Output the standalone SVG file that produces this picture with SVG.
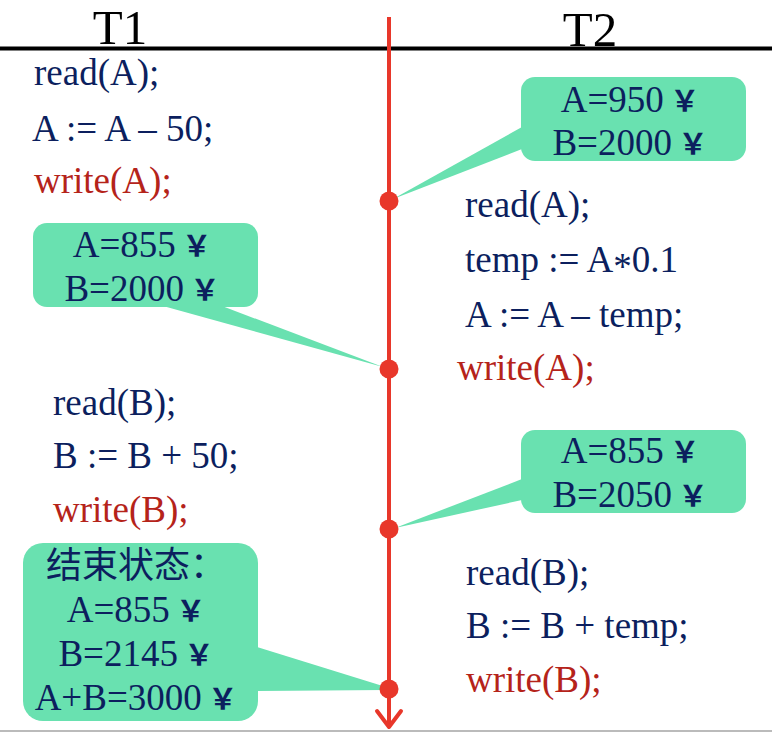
<svg xmlns="http://www.w3.org/2000/svg" width="772" height="732" viewBox="0 0 772 732">
<style>
.t{font-family:"Liberation Serif","Times New Roman",serif;font-size:37px;fill:#0c1f5e}
.r{fill:#b5231a}
.h{font-family:"Liberation Serif","Times New Roman",serif;font-size:49px;fill:#000}
.c{text-anchor:middle}
.y{font-family:"Noto Sans CJK SC",sans-serif;font-weight:bold;font-size:29px}
.zh{font-family:"Noto Sans CJK SC",sans-serif;font-size:36px;fill:#0c1f5e}
.box{fill:#69e1b0}
.dot{fill:#e8372a}
</style>
<rect width="772" height="732" fill="#fff"/>
<line x1="0" y1="731" x2="772" y2="731" stroke="#bbbbbb" stroke-width="2"/>
<g id="header">
<line x1="0" y1="48.5" x2="772" y2="48.5" stroke="#000" stroke-width="4"/>
<text class="h" x="120" y="44" text-anchor="middle">T1</text>
<text class="h" x="590" y="46" text-anchor="middle">T2</text>
</g>
<g id="connectors">
<line x1="389" y1="17" x2="389" y2="726" stroke="#e8372a" stroke-width="4"/>
<polyline points="377,711 389,727 401,711" fill="none" stroke="#e8372a" stroke-width="4" stroke-linecap="round" stroke-linejoin="round"/>
</g>
<g id="t1-code1">
<text class="t" x="34" y="85">read(A);</text>
<text class="t" x="32" y="141">A := A – 50;</text>
<text class="t r" x="34" y="193">write(A);</text>
</g>
<g id="t1-code2">
<text class="t" x="53" y="415">read(B);</text>
<text class="t" x="53" y="468">B := B + 50;</text>
<text class="t r" x="53" y="522">write(B);</text>
</g>
<g id="t2-code1">
<text class="t" x="465" y="217">read(A);</text>
<text class="t" x="465" y="272">temp := A<tspan dy="7">*</tspan><tspan dy="-7">0.1</tspan></text>
<text class="t" x="465" y="327">A := A – temp;</text>
<text class="t r" x="457" y="380">write(A);</text>
</g>
<g id="t2-code2">
<text class="t" x="466" y="585">read(B);</text>
<text class="t" x="466" y="638">B := B + temp;</text>
<text class="t r" x="466" y="692">write(B);</text>
</g>
<g id="callout-t2-1">
<polygon class="box" points="522,127 522,149 393,199"/>
<rect class="box" x="521" y="77" width="225" height="84" rx="14"/>
<text class="t c" x="630" y="112">A=950<tspan class="y"> ￥</tspan></text>
<text class="t c" x="630" y="155">B=2000<tspan class="y"> ￥</tspan></text>
</g>
<g id="callout-t1-1">
<polygon class="box" points="163,306 222,306 383,367"/>
<rect class="box" x="33" y="223" width="225" height="84" rx="14"/>
<text class="t c" x="142" y="257">A=855<tspan class="y"> ￥</tspan></text>
<text class="t c" x="142" y="301">B=2000<tspan class="y"> ￥</tspan></text>
</g>
<g id="callout-t2-2">
<polygon class="box" points="522,479 522,500 395,528"/>
<rect class="box" x="521" y="430" width="225" height="83" rx="14"/>
<text class="t c" x="630" y="463">A=855<tspan class="y"> ￥</tspan></text>
<text class="t c" x="630" y="507">B=2050<tspan class="y"> ￥</tspan></text>
</g>
<g id="callout-final">
<polygon class="box" points="257,647 257,691 386,690 386,687"/>
<rect class="box" x="23" y="543" width="235" height="178" rx="20"/>
<text class="zh" x="46" y="578">结束状态：</text>
<text class="t c" x="136" y="622">A=855<tspan class="y"> ￥</tspan></text>
<text class="t c" x="136" y="666">B=2145<tspan class="y"> ￥</tspan></text>
<text class="t c" x="136" y="710">A+B=3000<tspan class="y"> ￥</tspan></text>
</g>
<g id="dots">
<circle class="dot" cx="389" cy="201" r="9.5"/>
<circle class="dot" cx="389" cy="369" r="9.5"/>
<circle class="dot" cx="389" cy="529" r="9.5"/>
<circle class="dot" cx="389" cy="689" r="9.5"/>
</g>
</svg>
